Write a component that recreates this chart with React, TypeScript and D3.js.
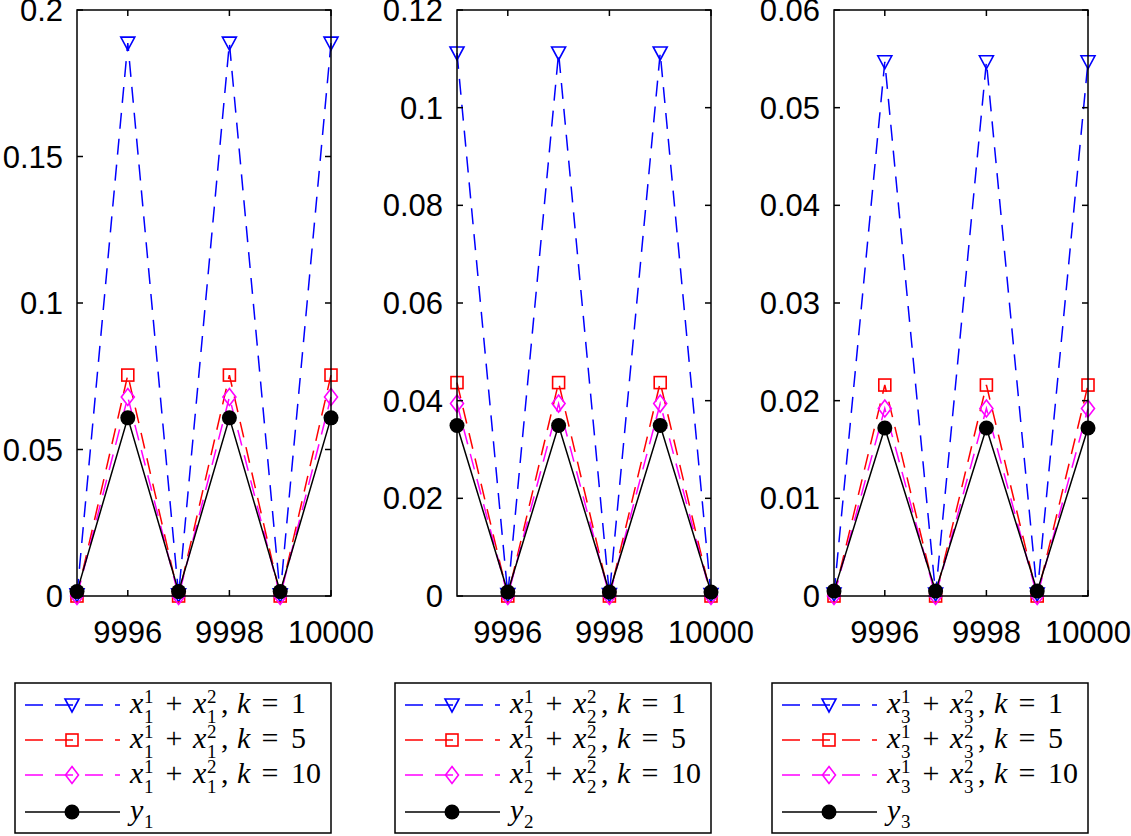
import React from "react";
import * as d3 from "d3";

const X = [9995, 9996, 9997, 9998, 9999, 10000];

// Panel 1
const P1_K1 = [0.0004, 0.1887, 0.0004, 0.1887, 0.0004, 0.1887];
const P1_K5 = [0, 0.0754, 0, 0.0754, 0, 0.0754];
const P1_K10 = [0, 0.0679, 0, 0.0679, 0, 0.0679];
const P1_Y = [0.0015, 0.0608, 0.0015, 0.0608, 0.0015, 0.0608];
// Panel 2
const P2_K1 = [0.1112, 0.0003, 0.1112, 0.0003, 0.1112, 0.0003];
const P2_K5 = [0.0437, 0, 0.0437, 0, 0.0437, 0];
const P2_K10 = [0.0394, 0, 0.0394, 0, 0.0394, 0];
const P2_Y = [0.0349, 0.0008, 0.0349, 0.0008, 0.0349, 0.0008];
// Panel 3
const P3_K1 = [0.0002, 0.0547, 0.0002, 0.0547, 0.0002, 0.0547];
const P3_K5 = [0, 0.0216, 0, 0.0216, 0, 0.0216];
const P3_K10 = [0, 0.0192, 0, 0.0192, 0, 0.0192];
const P3_Y = [0.0005, 0.0172, 0.0005, 0.0172, 0.0005, 0.0172];

const X_TICKS = [9996, 9998, 10000];
const Y_TICKS_1 = [0, 0.05, 0.1, 0.15, 0.2];
const Y_TICKS_2 = [0, 0.02, 0.04, 0.06, 0.08, 0.1, 0.12];
const Y_TICKS_3 = [0, 0.01, 0.02, 0.03, 0.04, 0.05, 0.06];
const Y_MAX = [0.2, 0.12, 0.06];
const K_VALUES = ["1", "5", "10"];

const panels = [
  { idx: "1", series: [P1_K1, P1_K5, P1_K10, P1_Y], ticks: Y_TICKS_1, yMax: Y_MAX[0], left: 77 },
  { idx: "2", series: [P2_K1, P2_K5, P2_K10, P2_Y], ticks: Y_TICKS_2, yMax: Y_MAX[1], left: 457 },
  { idx: "3", series: [P3_K1, P3_K5, P3_K10, P3_Y], ticks: Y_TICKS_3, yMax: Y_MAX[2], left: 834 },
];

const COLORS = ["#0000ff", "#ff0000", "#ff00ff", "#000000"];
const DASH = ["16,10", "16,10", "16,10", null];
const TOP = 10;
const BOTTOM = 596;
const W = 254;
const SANS = "'Liberation Sans', Arial, Helvetica, sans-serif";
const SERIF = "'Liberation Serif', 'DejaVu Serif', serif";

function Marker({ kind, x, y, color }: { kind: number; x: number; y: number; color: string }) {
  if (kind === 0)
    return <path d={`M${x - 7},${y - 6}L${x + 7},${y - 6}L${x},${y + 7}Z`} fill="none" stroke={color} strokeWidth={1.6} />;
  if (kind === 1)
    return <rect x={x - 6} y={y - 6} width={12} height={12} fill="none" stroke={color} strokeWidth={1.6} />;
  if (kind === 2)
    return <path d={`M${x},${y - 8.5}L${x + 6.5},${y}L${x},${y + 8.5}L${x - 6.5},${y}Z`} fill="none" stroke={color} strokeWidth={1.6} />;
  return <circle cx={x} cy={y} r={7.5} fill={color} />;
}

function LegendLabel({ x, y, idx, k }: { x: number; y: number; idx: string; k: string | null }) {
  const fs = 30;
  const ss = 19;
  const common = { fontFamily: SERIF, fill: "#000" };
  if (k === null) {
    return (
      <g>
        <text x={x} y={y} fontSize={fs} fontStyle="italic" {...common}>y</text>
        <text x={x + 14} y={y + 8} fontSize={ss} {...common}>{idx}</text>
      </g>
    );
  }
  return (
    <g>
      <text x={x} y={y} fontSize={fs} fontStyle="italic" {...common}>x</text>
      <text x={x + 14} y={y - 10} fontSize={ss} {...common}>1</text>
      <text x={x + 14} y={y + 10} fontSize={ss} {...common}>{idx}</text>
      <text x={x + 44} y={y} fontSize={fs} textAnchor="middle" {...common}>+</text>
      <text x={x + 63} y={y} fontSize={fs} fontStyle="italic" {...common}>x</text>
      <text x={x + 77} y={y - 10} fontSize={ss} {...common}>2</text>
      <text x={x + 77} y={y + 10} fontSize={ss} {...common}>{idx}</text>
      <text x={x + 91} y={y} fontSize={fs} {...common}>,</text>
      <text x={x + 107} y={y} fontSize={fs} fontStyle="italic" {...common}>k</text>
      <text x={x + 140} y={y} fontSize={fs} textAnchor="middle" {...common}>=</text>
      <text x={x + 161} y={y} fontSize={fs} {...common}>{k}</text>
    </g>
  );
}

function Panel({ p }: { p: (typeof panels)[number] }) {
  const x = d3.scaleLinear().domain([9995, 10000]).range([p.left, p.left + W]);
  const y = d3.scaleLinear().domain([0, p.yMax]).range([BOTTOM, TOP]);
  const line = d3
    .line<number>()
    .x((_, i) => x(X[i]))
    .y((d) => y(d));
  const right = p.left + W;
  const legW = 316;
  const legL = right - legW;
  const legT = 683;
  const rowY = [705, 740, 775, 812];
  return (
    <g>
      {p.series.map((s, si) => (
        <path
          key={si}
          d={line(s) || ""}
          fill="none"
          stroke={COLORS[si]}
          strokeWidth={1.5}
          strokeDasharray={DASH[si] || undefined}
        />
      ))}
      {p.series.map((s, si) => (
        <g key={"m" + si}>
          {s.map((v, i) => (
            <Marker key={i} kind={si} x={x(X[i])} y={y(v)} color={COLORS[si]} />
          ))}
        </g>
      ))}
      <rect x={p.left} y={TOP} width={W} height={BOTTOM - TOP} fill="none" stroke="#000" strokeWidth={1.5} />
      {X_TICKS.map((t) => (
        <g key={t}>
          <line x1={x(t)} x2={x(t)} y1={BOTTOM} y2={BOTTOM - 6} stroke="#000" strokeWidth={1.5} />
          <line x1={x(t)} x2={x(t)} y1={TOP} y2={TOP + 6} stroke="#000" strokeWidth={1.5} />
          <text x={x(t)} y={643} textAnchor="middle" fontFamily={SANS} fontSize={31} fill="#000">
            {t}
          </text>
        </g>
      ))}
      {p.ticks.map((t) => (
        <g key={t}>
          <line x1={p.left} x2={p.left + 6} y1={y(t)} y2={y(t)} stroke="#000" strokeWidth={1.5} />
          <line x1={right} x2={right - 6} y1={y(t)} y2={y(t)} stroke="#000" strokeWidth={1.5} />
          <text x={p.left - 14} y={y(t) + 11} textAnchor="end" fontFamily={SANS} fontSize={31} fill="#000">
            {d3.format("~g")(t)}
          </text>
        </g>
      ))}
      <rect x={legL} y={legT} width={legW} height={150} fill="#fff" stroke="#000" strokeWidth={1.5} />
      {COLORS.map((c, si) => (
        <g key={"l" + si}>
          <line
            x1={legL + 10}
            x2={legL + 105}
            y1={rowY[si]}
            y2={rowY[si]}
            stroke={c}
            strokeWidth={1.5}
            strokeDasharray={DASH[si] ? "18,12" : undefined}
          />
          <Marker kind={si} x={legL + 57} y={rowY[si]} color={c} />
          <LegendLabel x={legL + 115} y={rowY[si] + 8} idx={p.idx} k={si < 3 ? K_VALUES[si] : null} />
        </g>
      ))}
    </g>
  );
}

export default function App() {
  return (
    <svg width={1131} height={836} style={{ position: "absolute", left: 0, top: 0, background: "#fff" }}>
      <rect width={1131} height={836} fill="#fff" />
      {panels.map((p) => (
        <Panel key={p.idx} p={p} />
      ))}
    </svg>
  );
}
